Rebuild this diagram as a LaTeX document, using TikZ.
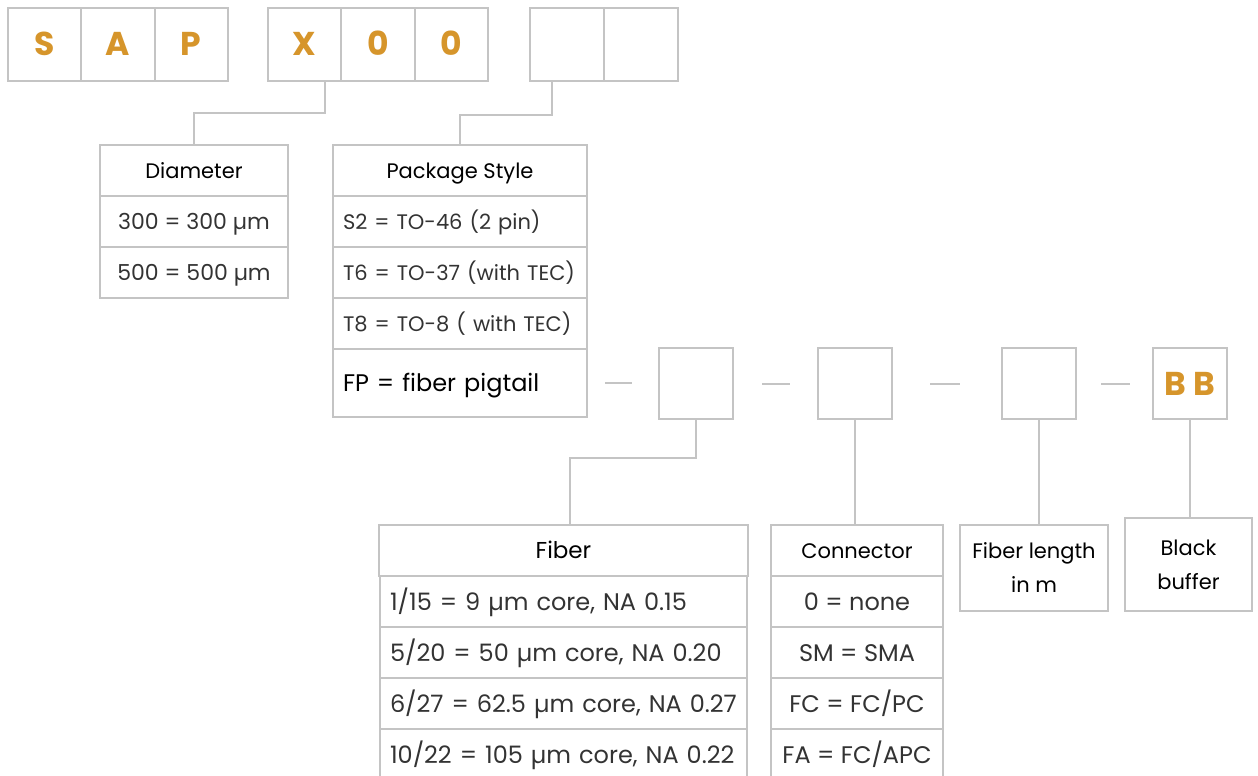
\documentclass[tikz,border=0pt]{standalone}
\usepackage{fontspec}
\setmainfont{Poppins}
\usetikzlibrary{positioning}
\definecolor{framegray}{HTML}{C4C4C4}
\definecolor{codeorange}{HTML}{D6952B}

\begin{document}
\begin{tikzpicture}[
    x=1pt, y=-1pt,
    font=\fontsize{21}{25}\selectfont,
    frame/.style={draw=framegray, line width=2pt, inner sep=0pt, outer sep=0pt},
    letter/.style={frame, minimum width=73.3pt, minimum height=73pt, text height=23pt, text depth=0pt, text=codeorange, font=\fontsize{33}{37}\selectfont\bfseries},
    slot/.style={letter, minimum width=74pt, minimum height=71pt},
    cell/.style={frame, minimum height=51pt, text height=15pt, text depth=0pt},
    entry/.style={cell, text=black!80},
    wide/.style={entry, text height=17pt, font=\fontsize{24}{28}\selectfont},
    lefttext/.style={text width=#1, align=left, inner xsep=10pt},
    link/.style={draw=framegray, line width=2pt}
]
\useasboundingbox (0,0) rectangle (1258,776);

\node[letter, anchor=north west] (s) at (8,8) {S};
\node[letter, right=0pt of s] (a) {A};
\node[letter, right=0pt of a] (p) {P};
\node[letter, anchor=north west] (x) at (268,8) {X};
\node[letter, right=0pt of x] (zero1) {0};
\node[letter, right=0pt of zero1] (zero2) {0};
\node[letter, anchor=north west, minimum width=74pt] (pk1) at (530,8) {};
\node[letter, right=0pt of pk1, minimum width=74pt] (pk2) {};

\node[cell, minimum width=188pt, anchor=north west] (dia) at (100,145) {Diameter};
\node[entry, minimum width=188pt, below=0pt of dia, font=\fontsize{22}{26}\selectfont] (dia1) {300 = 300 µm};
\node[entry, minimum width=188pt, below=0pt of dia1, font=\fontsize{22}{26}\selectfont] (dia2) {500 = 500 µm};

\node[cell, minimum width=254pt, anchor=north west] (pkg) at (333,145) {Package Style};
\node[entry, lefttext=234pt, below=0pt of pkg] (pkg1) {S2 = TO-46 (2 pin)};
\node[entry, lefttext=234pt, below=0pt of pkg1] (pkg2) {T6 = TO-37 (with TEC)};
\node[entry, lefttext=234pt, below=0pt of pkg2] (pkg3) {T8 = TO-8 ( with TEC)};
\node[cell, lefttext=234pt, below=0pt of pkg3, minimum height=68pt, text height=17pt, font=\fontsize{24}{28}\selectfont] (pkg4) {FP = fiber pigtail};

\node[slot, anchor=north west] (fib0) at (659,348) {};
\node[slot, anchor=north west] (con0) at (818,348) {};
\node[slot, anchor=north west] (len0) at (1002,348) {};
\node[slot, anchor=north west] (buf0) at (1153,348) {B B};

\node[cell, minimum width=369pt, anchor=north west, text height=16pt, font=\fontsize{23}{27}\selectfont] (fib) at (379,525) {Fiber};
\node[wide, lefttext=347pt, below=0pt of fib] (fib1) {1/15 = 9 µm core, NA 0.15};
\node[wide, lefttext=347pt, below=0pt of fib1] (fib2) {5/20 = 50 µm core, NA 0.20};
\node[wide, lefttext=347pt, below=0pt of fib2] (fib3) {6/27 = 62.5 µm core, NA 0.27};
\node[wide, lefttext=347pt, below=0pt of fib3] (fib4) {10/22 = 105 µm core, NA 0.22};

\node[cell, minimum width=172pt, anchor=north west] (con) at (771,525) {Connector};
\node[wide, minimum width=172pt, below=0pt of con] (con1) {0 = none};
\node[wide, minimum width=172pt, below=0pt of con1] (con2) {SM = SMA};
\node[wide, minimum width=172pt, below=0pt of con2] (con3) {FC = FC/PC};
\node[wide, minimum width=172pt, below=0pt of con3] (con4) {FA = FC/APC};

\node[frame, minimum width=148pt, minimum height=86pt, align=center, anchor=north west, font=\fontsize{21}{34}\selectfont] (len) at (960,525) {Fiber length\\in m};
\node[frame, minimum width=127pt, minimum height=93pt, align=center, anchor=north west, font=\fontsize{21}{34}\selectfont] (buf) at (1125,518) {Black\\buffer};

\draw[link] ([xshift=20pt]x.south) -- ++(0,32) -| (dia.north);
\draw[link] ([xshift=-15pt]pk1.south) -- ++(0,34) -| (pkg.north);
\draw[link] (fib0.south) -- ++(0,39) -| ([xshift=6pt]fib.north);
\draw[link] (con0.south) -- (con0.south |- con.north);
\draw[link] (len0.south) -- (len0.south |- len.north);
\draw[link] (buf0.south) -- (buf0.south |- buf.north);

\draw[link, shorten <=18pt, shorten >=27pt] (pkg4.east) -- (pkg4.east -| fib0.west);
\draw[link, shorten <=29pt, shorten >=28pt] (fib0.east) -- (con0.west);
\draw[link, shorten <=38pt, shorten >=42pt] (con0.east) -- (len0.west);
\draw[link, shorten <=25pt, shorten >=23pt] (len0.east) -- (buf0.west);
\end{tikzpicture}
\end{document}
